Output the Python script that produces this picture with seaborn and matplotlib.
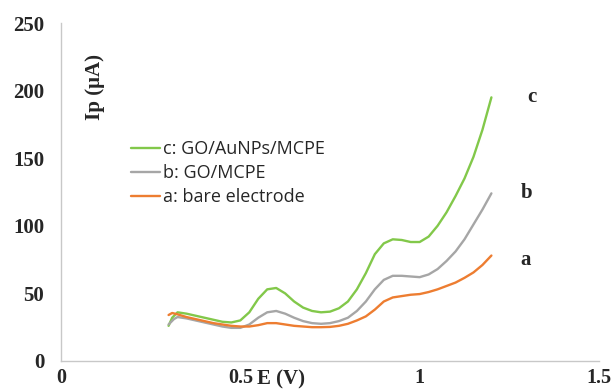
import numpy as np
import pandas as pd
import matplotlib
matplotlib.use("Agg")
import matplotlib.pyplot as plt
import seaborn as sns

# ---- data ----
E_c = [0.300, 0.310, 0.325, 0.35, 0.375, 0.40, 0.425, 0.45, 0.475, 0.50, 0.525, 0.55, 0.575, 0.60,
       0.625, 0.65, 0.675, 0.70, 0.725, 0.75, 0.775, 0.80, 0.825, 0.85, 0.875, 0.90, 0.925, 0.95,
       0.975, 1.00, 1.025, 1.05, 1.075, 1.10, 1.125, 1.15, 1.175, 1.20]
I_c = [26, 32, 36, 35, 33.5, 32, 30.5, 29, 28.5, 30, 36, 46, 53, 54,
       50, 44, 39.5, 37, 36, 36.5, 39, 44, 53, 65, 79, 87, 90, 89.5,
       88, 88, 92, 100, 110, 122, 135, 151, 171, 195]

E_b = [0.300, 0.315, 0.325, 0.35, 0.375, 0.40, 0.425, 0.45, 0.475, 0.50, 0.525, 0.55, 0.575, 0.60,
       0.625, 0.65, 0.675, 0.70, 0.725, 0.75, 0.775, 0.80, 0.825, 0.85, 0.875, 0.90, 0.925, 0.95,
       0.975, 1.00, 1.025, 1.05, 1.075, 1.10, 1.125, 1.15, 1.175, 1.20]
I_b = [27, 31, 32.5, 31.5, 30, 28.5, 27, 25.5, 24.5, 24.5, 27, 32, 36, 37,
       35, 32, 29.5, 28, 27.5, 28, 29.5, 32, 37, 44, 53, 60, 63, 63,
       62.5, 62, 64, 68, 74, 81, 90, 101, 112, 124]

E_a = [0.300, 0.310, 0.325, 0.35, 0.375, 0.40, 0.425, 0.45, 0.475, 0.50, 0.525, 0.55, 0.575, 0.60,
       0.625, 0.65, 0.675, 0.70, 0.725, 0.75, 0.775, 0.80, 0.825, 0.85, 0.875, 0.90, 0.925, 0.95,
       0.975, 1.00, 1.025, 1.05, 1.075, 1.10, 1.125, 1.15, 1.175, 1.20]
I_a = [34, 35.5, 34.5, 32.5, 31, 29.5, 28, 27, 26, 25.5, 25.5, 26.5, 28, 28,
       27, 26, 25.5, 25, 25, 25.2, 26, 27.5, 30, 33, 38, 44, 47, 48,
       49, 49.5, 51, 53, 55.5, 58, 61.5, 65.5, 71, 78]

series_names = ["c: GO/AuNPs/MCPE", "b: GO/MCPE", "a: bare electrode"]
end_letters = ["c", "b", "a"]
x_ticks = [0, 0.5, 1, 1.5]
x_tick_labels = ["0", "0.5", "1", "1.5"]
y_ticks = [0, 50, 100, 150, 200, 250]

colors = {"c: GO/AuNPs/MCPE": "#82c84a",
          "b: GO/MCPE": "#a6a6a6",
          "a: bare electrode": "#ed7d31"}

df = pd.concat([
    pd.DataFrame({"E": E_c, "I": I_c, "s": series_names[0]}),
    pd.DataFrame({"E": E_b, "I": I_b, "s": series_names[1]}),
    pd.DataFrame({"E": E_a, "I": I_a, "s": series_names[2]}),
], ignore_index=True)

sns.set_style("white")
fig = plt.figure(figsize=(6.14, 3.90), dpi=100)
ax = fig.add_axes([0.0993, 0.0744, 0.8763, 0.8666])

sns.lineplot(data=df, x="E", y="I", hue="s", hue_order=series_names,
             palette=colors, sort=False, estimator=None, linewidth=1.7, ax=ax, legend=False)

ax.set_xlim(0, 1.5)
ax.set_ylim(0, 250)
ax.set_xticks(x_ticks)
ax.set_xticklabels(x_tick_labels)
ax.set_yticks(y_ticks)
ax.set_xlabel("")
ax.set_ylabel("")

serif = ["Liberation Serif", "DejaVu Serif"]
for lab in ax.get_yticklabels():
    lab.set_fontfamily(serif)
    lab.set_fontweight("bold")
    lab.set_fontsize(15)
for lab in ax.get_xticklabels():
    lab.set_fontfamily(serif)
    lab.set_fontweight("bold")
    lab.set_fontsize(14.5)
ax.tick_params(axis="both", length=0)
ax.tick_params(axis="y", pad=12)
ax.tick_params(axis="x", pad=5)

for sp in ["top", "right"]:
    ax.spines[sp].set_visible(False)
for sp in ["left", "bottom"]:
    ax.spines[sp].set_color("#c8c8c8")
    ax.spines[sp].set_linewidth(1.0)

# end-of-curve letters
letter_pos = [(1.313, 195), (1.299, 124), (1.294, 75)]
for letter, (lx, ly) in zip(end_letters, letter_pos):
    ax.text(lx, ly, letter, fontfamily=serif, fontweight="bold", fontsize=15,
            ha="center", va="center")

# axis titles
fig.text(257 / 614, 1 - 379 / 390, "E (V)", fontfamily=serif, fontweight="bold",
         fontsize=15, ha="left", va="center")
fig.text(95 / 614, 1 - 87 / 390, "Ip (μA)", fontfamily=serif, fontweight="bold",
         fontsize=15, ha="center", va="center", rotation=90)

# legend
handles = [plt.Line2D([], [], color=colors[n], lw=1.7) for n in series_names]
leg = ax.legend(handles, series_names, loc="upper left", bbox_to_anchor=(0.107, 0.69),
                frameon=False, handlelength=1.6, handletextpad=0.15, labelspacing=0.32,
                borderpad=0.2, prop={"family": "Open Sans", "size": 13})

fig.savefig("out.png", dpi=100)
